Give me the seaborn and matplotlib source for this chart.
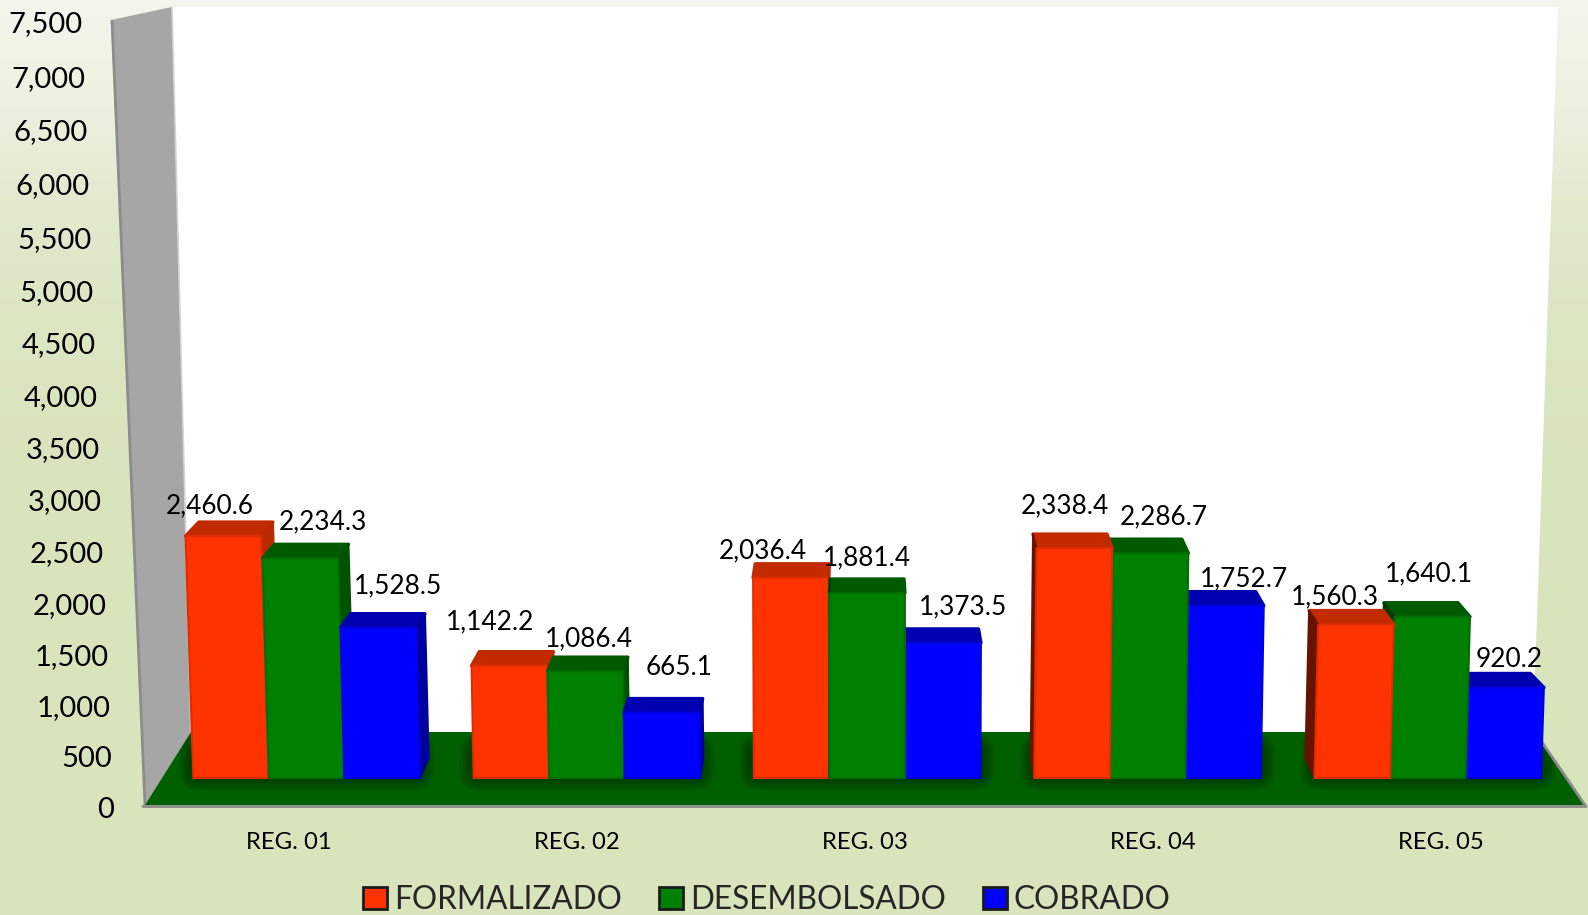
import numpy as np
import pandas as pd
import matplotlib
matplotlib.use('Agg')
import matplotlib.pyplot as plt
import seaborn as sns
from matplotlib.patches import Polygon, FancyBboxPatch
from matplotlib.transforms import Affine2D

# data
regions = ['REG. 01', 'REG. 02', 'REG. 03', 'REG. 04', 'REG. 05']
series = ['FORMALIZADO', 'DESEMBOLSADO', 'COBRADO']
formalizado = [2460.6, 1142.2, 2036.4, 2338.4, 1560.3]
desembolsado = [2234.3, 1086.4, 1881.4, 2286.7, 1640.1]
cobrado = [1528.5, 665.1, 1373.5, 1752.7, 920.2]
y_ticks = list(range(0, 7501, 500))

# label offsets from the bar top, in pixels (they are not regular in the original)
label_dx = [[-21, -21, -29, -7, -17], [16, 2, 0, 16, 1], [16, 17, 20, 21, 6]]
label_dy = [[30, 44, 27, 42, 28], [37, 32, 35, 36, 43], [42, 45, 36, 27, 28]]

face_colors = ['#ff3300', '#008000', '#0000ff']
edge_colors = ['#e02d00', '#006f00', '#0000e0']
top_colors = ['#c22b00', '#005a00', '#0000b0']
right_colors = ['#b82a00', '#005200', '#0000a0']
left_colors = ['#661400', '#003c00', '#000070']

W, H = 1588, 915
PX_PER_UNIT = 0.0983
GROUP_STEP = 280.3
AX_LEFT = 166.4
BASE_Y = 778
# value axis of the front plane is slightly stretched towards the top
TICK_A, TICK_B = 0.10077, 5.2e-7

sns.set_theme(style='white')
plt.rcParams['font.family'] = ['Lato', 'DejaVu Sans']

fig = plt.figure(figsize=(W / 100, H / 100), dpi=100)

# background, drawn in pixel coordinates
bg = fig.add_axes([0, 0, 1, 1], zorder=0)
bg.set_xlim(0, W)
bg.set_ylim(H, 0)
bg.axis('off')
stops_y = [0, 100, 200, 330, 500, 915]
stops_c = np.array([[243, 246, 236], [236, 241, 224], [225, 234, 207], [219, 230, 194], [216, 228, 188], [216, 228, 188]]) / 255
rows = np.arange(H)
grad = np.stack([np.interp(rows, stops_y, stops_c[:, i]) for i in range(3)], axis=1)[:, None, :]
bg.imshow(grad, extent=(0, W, H, 0), aspect='auto', zorder=0)

bg.add_patch(Polygon([(172, 7), (1558, 7), (1533, 733), (191, 733)], fc='white', ec='none', zorder=1))
bg.add_patch(Polygon([(111, 20), (172, 7), (191, 733), (145, 805)], fc='#a6a6a6', ec='none', zorder=2))
bg.plot([112, 145], [20, 805], color='#8c8c8c', lw=2, solid_capstyle='butt', zorder=3)
bg.plot([172, 191], [7, 733], color='#d4d4d4', lw=1.2, zorder=3)
floor = Polygon([(145, 805), (1585, 805), (1533, 732), (191, 732)], fc='#006000', ec='none', zorder=4)
bg.add_patch(floor)
bg.plot([143, 1586, 1537], [806.5, 806.5, 735], color='#8a8a8a', lw=2, zorder=4)

# soft shadow on the floor around each group
for g in range(len(regions)):
    cx = AX_LEFT + (g + 0.5) * GROUP_STEP
    for grow in range(0, 21, 3):
        shadow = FancyBboxPatch((cx - 109 - grow, 752 - grow), 218 + 2 * grow, 20 + 2 * grow,
                                boxstyle='round,pad=0,rounding_size=%d' % (grow + 2),
                                fc='#002400', ec='none', alpha=0.16, zorder=5)
        bg.add_patch(shadow)
        shadow.set_clip_path(floor)

# bars
ax = fig.add_axes([AX_LEFT / W, (H - BASE_Y) / H, GROUP_STEP * 5 / W, 7500 * PX_PER_UNIT / H], zorder=2)
ax.patch.set_visible(False)
df = pd.DataFrame({
    'region': regions * 3,
    'serie': np.repeat(series, len(regions)),
    'valor': formalizado + desembolsado + cobrado,
})
sns.barplot(data=df, x='region', y='valor', hue='serie', order=regions, hue_order=series,
            palette=face_colors, saturation=1, width=0.808, gap=0, errorbar=None, ax=ax)
ax.set_xlim(-0.5, len(regions) - 0.5)
ax.set_ylim(0, 7500)


def to_px(x):
    return AX_LEFT + (x + 0.5) * GROUP_STEP


def dx_units(px):
    return px / GROUP_STEP


def dy_units(px):
    return px / PX_PER_UNIT


# turn the flat bars into the 3D look of the original
for s, container in enumerate(ax.containers):
    for g, bar in enumerate(container.patches):
        x0, x1 = bar.get_x(), bar.get_x() + bar.get_width()
        h = bar.get_height()
        xc = to_px((x0 + x1) / 2)
        z = 10 - abs(xc - 860) / 1000

        lean = (xc - 870) * 5.0e-5
        shear = lean * PX_PER_UNIT / GROUP_STEP
        shift = shear * h
        bar.set_transform(Affine2D.from_values(1, 0, shear, 1, 0, 0) + ax.transData)
        bar.set_edgecolor(edge_colors[s])
        bar.set_linewidth(1.5)
        bar.set_joinstyle('round')
        bar.set_zorder(z)
        bar.set_clip_on(False)

        depth_l = dx_units(0.02 * (860 - to_px(x0)))
        depth_r = dx_units(0.02 * (860 - to_px(x1)))
        top_back = h + dy_units(14)
        base_back = dy_units(20)
        ax.add_patch(Polygon([(x0 + shift, h), (x1 + shift, h), (x1 + shift + depth_r, top_back),
                              (x0 + shift + depth_l, top_back)],
                             fc=top_colors[s], ec=top_colors[s], lw=2.5, joinstyle='round', zorder=z - 0.001, clip_on=False))
        if xc < 860:
            side = [(x1, 0), (x1 + depth_r, base_back), (x1 + shift + depth_r, top_back), (x1 + shift, h)]
            side_color = right_colors[s]
        else:
            side = [(x0, 0), (x0 + depth_l, base_back), (x0 + shift + depth_l, top_back), (x0 + shift, h)]
            side_color = left_colors[s]
        ax.add_patch(Polygon(side, fc=side_color, ec=side_color, lw=1.5, joinstyle='round', zorder=z - 0.001, clip_on=False))

        ax.annotate(f'{h:,.1f}', xy=((x0 + x1) / 2, h), xytext=(label_dx[s][g], label_dy[s][g]),
                    textcoords='offset pixels', ha='center', va='center', fontsize=18.9, color='black',
                    zorder=20, annotation_clip=False)

sns.move_legend(ax, 'center', bbox_to_anchor=((767 - AX_LEFT) / (GROUP_STEP * 5), (BASE_Y - 900) / (7500 * PX_PER_UNIT)),
                ncols=3, frameon=False, title=None, fontsize=22.7, borderpad=0, borderaxespad=0,
                handlelength=0.74, handleheight=0.72, handletextpad=0.22, columnspacing=1.2)
for handle in ax.get_legend().get_patches():
    handle.set_edgecolor('#1c1c1c')
    handle.set_linewidth(2)
ax.axis('off')

# front plane of the chart carries the value and category labels
front = fig.add_axes([145 / W, (H - 807) / H, 1440 / W, 785 / H], zorder=1)
front.patch.set_visible(False)
front.set_yscale('function', functions=(
    lambda v: TICK_A * np.asarray(v) + TICK_B * np.asarray(v) ** 2,
    lambda p: (-TICK_A + np.sqrt(TICK_A ** 2 + 4 * TICK_B * np.maximum(p, 0))) / (2 * TICK_B),
))
front.set_ylim(0, 7500)
front.set_xlim(-0.5, len(regions) - 0.5)
front.set_yticks(y_ticks)
front.set_yticklabels([f'{t:,}' for t in y_ticks], fontsize=21, color='black')
front.yaxis.set_minor_locator(matplotlib.ticker.NullLocator())
front.set_xticks(range(len(regions)))
front.set_xticklabels(regions, fontsize=17.2, color='black')
front.tick_params(axis='y', length=0, pad=22)
front.tick_params(axis='x', length=0, pad=18)
sns.despine(ax=front, left=True, bottom=True)

# value labels follow the slant of the wall
for t, label in zip(y_ticks, front.get_yticklabels()):
    offset = -31.5 * (TICK_A * t + TICK_B * t ** 2) / 785
    label.set_transform(label.get_transform() + Affine2D().translate(offset, 0))

fig.savefig('out.png', dpi=100)
